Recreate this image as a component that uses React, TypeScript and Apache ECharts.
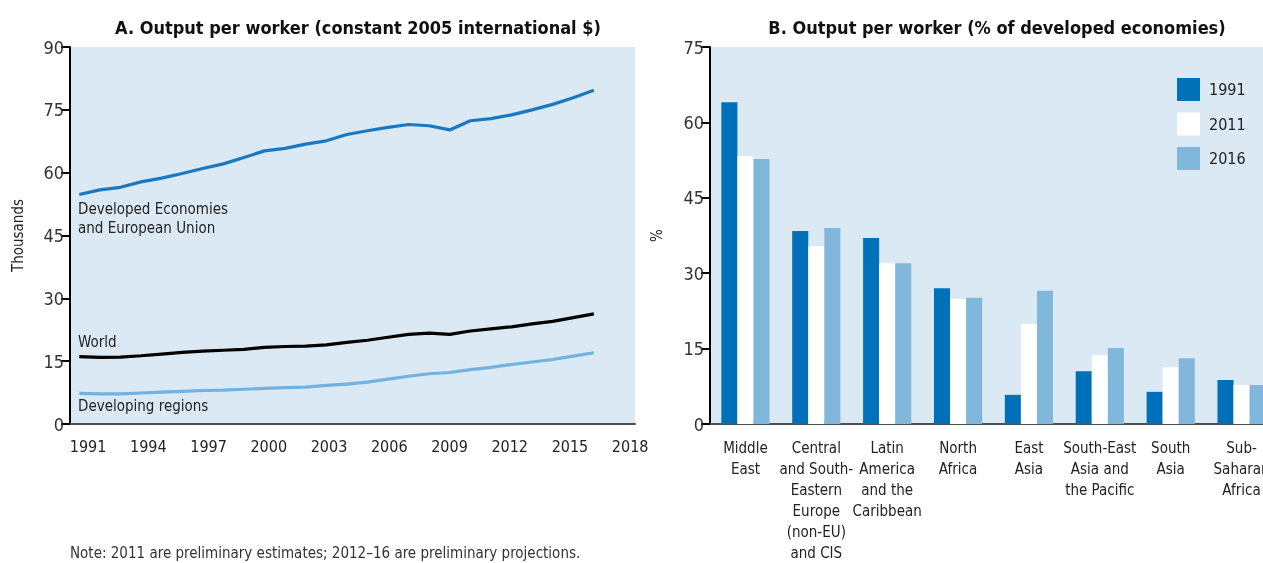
import React, { useEffect, useRef } from "react";
import * as echarts from "echarts";

const years = [1991,1992,1993,1994,1995,1996,1997,1998,1999,2000,2001,2002,2003,2004,2005,2006,2007,2008,2009,2010,2011,2012,2013,2014,2015,2016];
const developed = [54.8,55.9,56.5,57.8,58.7,59.8,61.0,62.1,63.6,65.2,65.8,66.8,67.6,69.1,70.0,70.8,71.5,71.2,70.2,72.4,72.9,73.8,75.0,76.3,77.9,79.7];
const world = [16.1,15.9,15.95,16.3,16.7,17.1,17.4,17.6,17.8,18.3,18.5,18.6,18.9,19.5,20.0,20.7,21.4,21.7,21.4,22.2,22.7,23.2,23.9,24.5,25.4,26.3];
const developing = [7.3,7.2,7.2,7.4,7.6,7.8,8.0,8.1,8.3,8.5,8.7,8.8,9.2,9.5,10.0,10.7,11.4,12.0,12.3,13.0,13.5,14.2,14.8,15.4,16.2,17.0];
const yearTicks = [1991,1994,1997,2000,2003,2006,2009,2012,2015,2018];

const regions = [
  "Middle\nEast",
  "Central\nand South-\nEastern\nEurope\n(non-EU)\nand CIS",
  "Latin\nAmerica\nand the\nCaribbean",
  "North\nAfrica",
  "East\nAsia",
  "South-East\nAsia and\nthe Pacific",
  "South\nAsia",
  "Sub-\nSaharan\nAfrica",
];
const share1991 = [64.0,38.4,37.0,27.0,5.8,10.5,6.4,8.75];
const share2011 = [53.3,35.4,32.0,24.9,19.9,13.7,11.3,7.75];
const share2016 = [52.7,39.0,32.0,25.1,26.5,15.1,13.1,7.75];

const FONT = "'Liberation Sans Narrow', 'DejaVu Sans Condensed', 'Roboto Condensed', Roboto, sans-serif";
const BG = "#dae9f3";
const DARK = "#0070b8";
const LIGHT = "#80b7db";

export default function App() {
  const ref = useRef<HTMLDivElement>(null);
  useEffect(() => {
    if (!ref.current) return;
    const chart = echarts.init(ref.current, null, { renderer: "svg" });
    const yLabel = { color: "#333", fontSize: 18, fontFamily: FONT, margin: 6 };
    chart.setOption({
      animation: false,
      textStyle: { fontFamily: FONT },
      title: [
        { text: "A. Output per worker (constant 2005 international $)", left: 353, top: 13, textAlign: "center",
          textStyle: { fontSize: 18, fontWeight: "bold", color: "#111", fontFamily: FONT } },
        { text: "B. Output per worker (% of developed economies)", left: 992, top: 13, textAlign: "center",
          textStyle: { fontSize: 18, fontWeight: "bold", color: "#111", fontFamily: FONT } },
      ],
      grid: [
        { left: 70, width: 565, top: 47, height: 377, show: true, backgroundColor: BG, borderWidth: 0, outerBoundsMode: "none", containLabel: false },
        { left: 710, width: 567, top: 47, height: 377, show: true, backgroundColor: BG, borderWidth: 0, outerBoundsMode: "none", containLabel: false },
      ],
      xAxis: [
        { type: "value", gridIndex: 0, min: 1990.1, max: 2018.24,
          axisLine: { show: true, lineStyle: { color: "#4a4f55", width: 2 } },
          axisTick: { show: false }, splitLine: { show: false },
          axisLabel: { customValues: yearTicks, formatter: (v: number) => String(Math.round(v)),
            color: "#222", fontSize: 16, fontFamily: FONT, margin: 14 } },
        { type: "value", gridIndex: 0, min: 1990.55, max: 2018, show: false, splitLine: { show: false } },
        { type: "category", gridIndex: 1, data: regions,
          axisLine: { show: true, lineStyle: { color: "#4a4f55", width: 2 } },
          axisTick: { show: false },
          axisLabel: { interval: 0, color: "#222", fontSize: 15, lineHeight: 21, fontFamily: FONT, margin: 13 } },
      ],
      yAxis: [
        { type: "value", gridIndex: 0, min: 0, max: 90, interval: 15,
          name: "Thousands", nameLocation: "middle", nameRotate: 90, nameGap: 45,
          nameTextStyle: { fontSize: 15, color: "#222", fontFamily: FONT },
          axisLine: { show: true, lineStyle: { color: "#000", width: 2 } },
          axisTick: { show: true, length: 9, lineStyle: { color: "#000", width: 2 } },
          splitLine: { show: false }, axisLabel: yLabel },
        { type: "value", gridIndex: 1, min: 0, max: 75, interval: 15,
          name: "%", nameLocation: "middle", nameRotate: 90, nameGap: 46,
          nameTextStyle: { fontSize: 15, color: "#222", fontFamily: FONT },
          axisLine: { show: true, lineStyle: { color: "#000", width: 2 } },
          axisTick: { show: true, length: 9, lineStyle: { color: "#000", width: 2 } },
          splitLine: { show: false }, axisLabel: yLabel },
      ],
      legend: {
        orient: "vertical", left: 1177, top: 78, padding: 0, itemWidth: 23, itemHeight: 23, itemGap: 11.5,
        icon: "rect", data: ["1991", "2011", "2016"],
        textStyle: { fontSize: 16, color: "#222", fontFamily: FONT, padding: [0, 0, 0, 4] },
      },
      series: [
        { type: "line", name: "Developed", xAxisIndex: 1, yAxisIndex: 0, showSymbol: false,
          data: years.map((y, i) => [y, developed[i]]), lineStyle: { color: "#1a77c0", width: 3.2 }, itemStyle: { color: "#1a77c0" } },
        { type: "line", name: "World", xAxisIndex: 1, yAxisIndex: 0, showSymbol: false,
          data: years.map((y, i) => [y, world[i]]), lineStyle: { color: "#000", width: 3.2 }, itemStyle: { color: "#000" } },
        { type: "line", name: "Developing", xAxisIndex: 1, yAxisIndex: 0, showSymbol: false,
          data: years.map((y, i) => [y, developing[i]]), lineStyle: { color: "#72b2e0", width: 3.2 }, itemStyle: { color: "#72b2e0" } },
        { type: "bar", name: "1991", xAxisIndex: 2, yAxisIndex: 1, data: share1991, itemStyle: { color: DARK },
          barGap: "0%", barCategoryGap: "32%" },
        { type: "bar", name: "2011", xAxisIndex: 2, yAxisIndex: 1, data: share2011, itemStyle: { color: "#ffffff" },
          barGap: "0%", barCategoryGap: "32%" },
        { type: "bar", name: "2016", xAxisIndex: 2, yAxisIndex: 1, data: share2016, itemStyle: { color: LIGHT },
          barGap: "0%", barCategoryGap: "32%" },
      ],
      graphic: [
        { type: "text", left: 78, top: 199, style: { text: "Developed Economies\nand European Union", fontSize: 15, lineHeight: 19, fill: "#222", fontFamily: FONT } },
        { type: "text", left: 78, top: 334, style: { text: "World", fontSize: 15, fill: "#222", fontFamily: FONT } },
        { type: "text", left: 78, top: 398, style: { text: "Developing regions", fontSize: 15, fill: "#222", fontFamily: FONT } },
        { type: "text", left: 70, top: 545, style: { text: "Note: 2011 are preliminary estimates; 2012\u201316 are preliminary projections.", fontSize: 15, fill: "#333", fontFamily: FONT } },
      ],
    });
    return () => chart.dispose();
  }, []);
  return <div ref={ref} style={{ position: "fixed", left: 0, top: 0, width: 1263, height: 563 }} />;
}
